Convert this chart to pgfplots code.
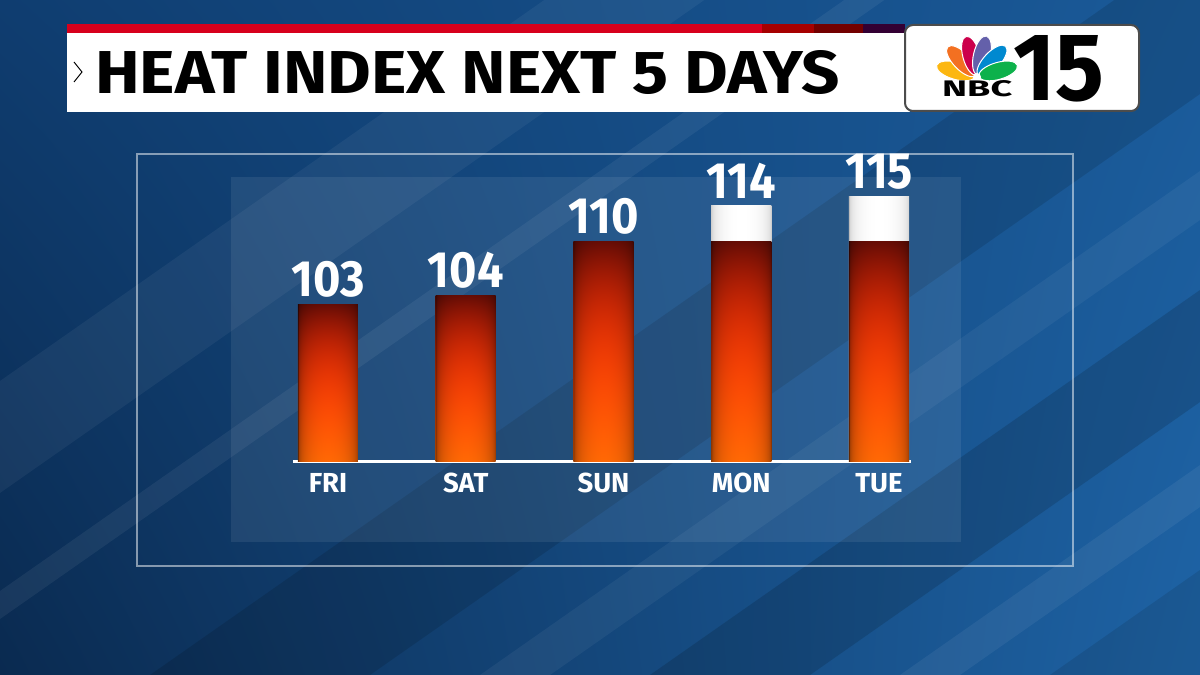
\documentclass[border=0pt]{standalone}
\usepackage{pgfplots}
\pgfplotsset{compat=1.18}
\usepackage{pgfplotstable}
\usetikzlibrary{shadings}
\usepackage{fontspec}
\setmainfont{Fira Sans}
\newfontfamily\boldfam{Fira Sans}[UprightFont={* Bold}]
\newfontfamily\numfam{Fira Sans}[UprightFont={* Bold}, FakeStretch=0.92]
\newcommand\numfont{\numfam\fontsize{51pt}{51pt}\selectfont}
\newcommand\daysfont{\boldfam\fontsize{27.5pt}{28pt}\selectfont}

\definecolor{bgUL}{HTML}{0F3D70}
\definecolor{bgUR}{HTML}{1A5A99}
\definecolor{bgLL}{HTML}{0A2A50}
\definecolor{bgLR}{HTML}{1E63A5}
\definecolor{nbcred}{HTML}{D7001C}
\definecolor{pkYellow}{HTML}{FCB711}
\definecolor{pkOrange}{HTML}{F37021}
\definecolor{pkRed}{HTML}{CC004C}
\definecolor{pkPurple}{HTML}{6460AA}
\definecolor{pkBlue}{HTML}{0089D0}
\definecolor{pkGreen}{HTML}{0DB14B}

% cylinder look: dark edges, dark red top, bright orange bottom
\pgfdeclarefunctionalshading{cyl}{\pgfpoint{-50bp}{-50bp}}{\pgfpoint{50bp}{50bp}}{}{
  25 add 50 div exch 25 div
  dup mul 1 exch sub abs sqrt sqrt
  0.7 mul 0.3 add
  exch
  dup dup dup mul mul 0.6 mul 1 exch sub
  exch 0.36 mul 0.41 exch sub
  2 index mul
  exch 2 index mul
  exch
  3 2 roll 0.02 mul
}
% white cap with greyish edges
\pgfdeclarefunctionalshading{capshade}{\pgfpoint{-50bp}{-50bp}}{\pgfpoint{50bp}{50bp}}{}{
  pop 25 div dup mul 1 exch sub abs sqrt sqrt
  0.3 mul 0.7 add dup dup
}

% heat index by day; rv = part drawn in red (capped at 110)
\pgfplotstableread{
x v rv
0 103 103
1 104 104
2 110 110
3 114 110
4 115 110
}\heatdata

\begin{document}
\begin{tikzpicture}
% picture coordinates in px; data origin (FRI, base) sits at (328,214)
\begin{scope}[x=1pt, y=1pt, shift={(-328pt,-214pt)}]
\useasboundingbox (0,0) rectangle (1200,675);
\begin{scope}
  \clip (0,0) rectangle (1200,675);
  \shade[upper left=bgUL, upper right=bgUR, lower left=bgLL, lower right=bgLR]
    (0,0) rectangle (1200,675);
  \foreach \a/\w/\c/\o in {-420/160/white/0.05, -120/40/white/0.06, 150/220/black/0.12,
                          480/70/white/0.05, 650/160/black/0.14, 900/60/white/0.06,
                          1050/200/black/0.10}
    {\fill[\c, opacity=\o] (\a,0) -- ++(\w,0) -- ++(1000,700) -- ++(-\w,0) -- cycle;}
\end{scope}
\fill[white, opacity=0.08] (231,133) rectangle (961,498);
\draw[white, opacity=0.5, line width=1.3pt] (137,109) rectangle (1073,521);
\draw[white, line width=3pt] (293,214) -- (911,214);
\end{scope}

\begin{axis}[
    anchor=origin,
    scale only axis, width=688.75pt, height=354.6pt,
    xmin=-0.5, xmax=4.5, ymin=0, ymax=39.4,
    hide y axis,
    axis x line*=bottom,
    axis line style={draw=none},
    major tick length=0pt,
    xtick={0,...,4},
    xticklabels={FRI,SAT,SUN,MON,TUE},
    xticklabel style={font=\daysfont, text=white, inner sep=0pt, anchor=north, yshift=-12pt},
    /pgf/number format/assume math mode=true,
    ybar, bar width=60pt,
    clip=false
]
% white caps above 110 (one plot per bar so each gets its own shading)
\pgfplotsinvokeforeach{3,4}{
  \addplot[bar shift=0pt, draw=none, shade, shading=capshade,
      x filter/.expression={abs(x-#1)<0.1 ? x : nan}]
      table[x=x, y expr=\thisrow{v}-85.6] {\heatdata};
}
% red part
\pgfplotsinvokeforeach{0,...,4}{
  \addplot[bar shift=0pt, draw=none, shade, shading=cyl,
      x filter/.expression={abs(x-#1)<0.1 ? x : nan}]
      table[x=x, y expr=\thisrow{rv}-85.6] {\heatdata};
}
% value labels
\addplot[bar shift=0pt, draw=none, fill=none,
    nodes near coords, point meta=explicit,
    every node near coord/.append style={font=\numfont, text=white, anchor=south, inner sep=0pt, yshift=7pt}]
    table[x=x, y expr=\thisrow{v}-85.6, meta=v] {\heatdata};
\end{axis}

\begin{scope}[x=1pt, y=1pt, shift={(-328pt,-214pt)}]
% title bar
\fill[nbcred] (67,642) rectangle (762,651);
\fill[red!65!black] (762,642) rectangle (814,651);
\fill[red!45!black] (814,642) rectangle (863,651);
\fill[red!25!black!80!blue] (863,642) rectangle (905,651);
\fill[white] (67,563) rectangle (910,642);
\draw[black, line width=1pt] (74,613) -- (82,603) -- (74,593);
\node[anchor=south west, inner sep=0pt] at (95,580)
  {\resizebox{745pt}{43pt}{\boldfam HEAT INDEX NEXT 5 DAYS}};
% logo
\draw[fill=white, draw=gray!60!black, line width=2pt, rounded corners=8pt] (905,564) rectangle (1139,650);
\foreach \ang/\c in {164/pkYellow, 134/pkOrange, 105/pkRed, 77/pkPurple, 47/pkBlue, 16/pkGreen}
  {\fill[\c, draw=white, line width=1pt, rotate around={\ang:(977,598)}] (999,598) ellipse [x radius=20, y radius=8.5];}
\fill[white] (977,598) circle [radius=4];
\node[anchor=south west, inner sep=0pt] at (942,578) {\resizebox{70pt}{16pt}{\boldfam NBC}};
\node[anchor=south west, inner sep=0pt] at (1013,573) {\resizebox{91pt}{65pt}{\boldfam 15}};
\end{scope}
\end{tikzpicture}
\end{document}
